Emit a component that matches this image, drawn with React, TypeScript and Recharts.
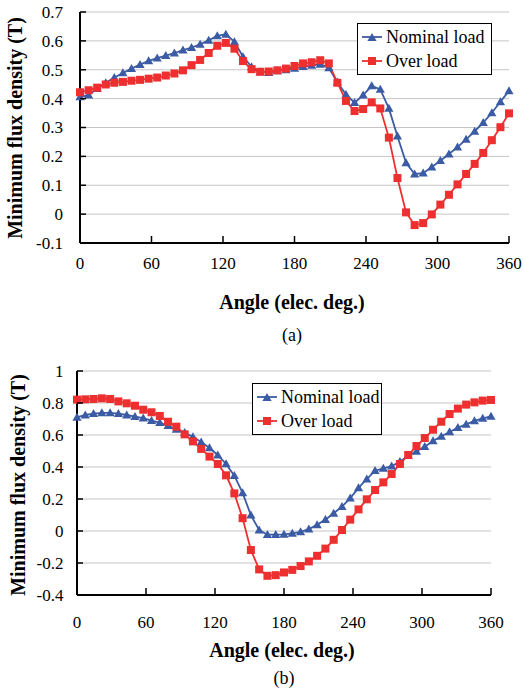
import React from 'react';
import { LineChart, Line, XAxis, YAxis, CartesianGrid } from 'recharts';

// electrical angle, one sample every 7.2 degrees
const angles = [
  0, 7.2, 14.4, 21.6, 28.8, 36, 43.2, 50.4, 57.6, 64.8, 72, 79.2, 86.4, 93.6, 100.8, 108, 115.2,
  122.4, 129.6, 136.8, 144, 151.2, 158.4, 165.6, 172.8, 180, 187.2, 194.4, 201.6, 208.8, 216,
  223.2, 230.4, 237.6, 244.8, 252, 259.2, 266.4, 273.6, 280.8, 288, 295.2, 302.4, 309.6, 316.8,
  324, 331.2, 338.4, 345.6, 352.8, 360,
];

// (a) minimum flux density, T
const nominalA = [
  0.406, 0.412, 0.435, 0.455, 0.473, 0.489, 0.504, 0.518, 0.531, 0.54, 0.549, 0.558, 0.568, 0.577,
  0.588, 0.602, 0.617, 0.623, 0.597, 0.545, 0.51, 0.493, 0.49, 0.496, 0.5, 0.505, 0.511, 0.515,
  0.519, 0.507, 0.457, 0.414, 0.386, 0.412, 0.444, 0.432, 0.366, 0.27, 0.178, 0.139, 0.142, 0.163,
  0.185, 0.208, 0.232, 0.259, 0.287, 0.317, 0.351, 0.389, 0.427,
];
const overA = [
  0.422, 0.429, 0.438, 0.449, 0.455, 0.458, 0.462, 0.465, 0.469, 0.473, 0.48, 0.487, 0.498, 0.516,
  0.534, 0.558, 0.583, 0.593, 0.573, 0.53, 0.502, 0.493, 0.494, 0.498, 0.504, 0.513, 0.522, 0.526,
  0.533, 0.522, 0.455, 0.392, 0.357, 0.364, 0.387, 0.366, 0.265, 0.125, 0.006, -0.038, -0.031,
  -0.001, 0.033, 0.067, 0.103, 0.139, 0.174, 0.212, 0.256, 0.301, 0.349,
];

// (b) minimum flux density, T
const nominalB = [
  0.71, 0.725, 0.733, 0.738, 0.738, 0.733, 0.725, 0.715, 0.706, 0.69, 0.677, 0.658, 0.635, 0.615,
  0.588, 0.556, 0.519, 0.475, 0.419, 0.346, 0.238, 0.099, 0.006, -0.023, -0.023, -0.021, -0.015,
  -0.006, 0.012, 0.039, 0.071, 0.111, 0.152, 0.206, 0.269, 0.325, 0.377, 0.392, 0.406, 0.433,
  0.471, 0.498, 0.527, 0.563, 0.592, 0.619, 0.646, 0.667, 0.688, 0.704, 0.717,
];
const overB = [
  0.821, 0.823, 0.825, 0.829, 0.825, 0.81, 0.798, 0.783, 0.758, 0.742, 0.719, 0.683, 0.652, 0.604,
  0.56, 0.513, 0.465, 0.419, 0.348, 0.235, 0.08, -0.119, -0.24, -0.28, -0.276, -0.259, -0.243,
  -0.219, -0.19, -0.155, -0.11, -0.055, 0.006, 0.071, 0.135, 0.198, 0.256, 0.304, 0.356, 0.419,
  0.475, 0.531, 0.581, 0.633, 0.683, 0.731, 0.765, 0.79, 0.804, 0.815, 0.819,
];

const angleTicks = [0, 60, 120, 180, 240, 300, 360];
const fluxTicksA = [-0.1, 0, 0.1, 0.2, 0.3, 0.4, 0.5, 0.6, 0.7];
const fluxTicksB = [-0.4, -0.2, 0, 0.2, 0.4, 0.6, 0.8, 1];
const seriesNames = ['Nominal load', 'Over load'];

const BLUE = '#3B5BA5';
const RED = '#ED2F2F';
const GRID = '#c4c4c4';
const SERIF = '"Liberation Serif", "Times New Roman", serif';

const toRows = (nominal: number[], over: number[]) =>
  angles.map((angle, i) => ({ angle, nominal: nominal[i], over: over[i] }));

const rowsA = toRows(nominalA, overA);
const rowsB = toRows(nominalB, overB);

const trianglePath = (cx: number, cy: number) =>
  `M${cx},${cy - 4.6}L${cx + 4.6},${cy + 3.4}L${cx - 4.6},${cy + 3.4}Z`;

const TriangleDot = (props: any) => {
  const { cx, cy, index } = props;
  if (cx == null || cy == null) return <g key={`tri-${index}`} />;
  return <path key={`tri-${index}`} d={trianglePath(cx, cy)} fill={BLUE} />;
};

const SquareDot = (props: any) => {
  const { cx, cy, index } = props;
  if (cx == null || cy == null) return <g key={`sq-${index}`} />;
  return <rect key={`sq-${index}`} x={cx - 4} y={cy - 4} width={8} height={8} fill={RED} />;
};

// inward tick mark on the left frame, label to the left of it
const YTick = (props: any) => {
  const x = Number(props.x);
  const y = Number(props.y);
  return (
    <g>
      <line x1={x} x2={x + 6} y1={y} y2={y} stroke="#000" strokeWidth={1.5} />
      <text x={x - props.gap} y={y} dy="0.35em" textAnchor="end" fontSize={17} fontFamily={SERIF} fill="#000">
        {String(props.payload.value)}
      </text>
    </g>
  );
};

// inward tick mark on the bottom frame, label below
const XTick = (props: any) => {
  const x = Number(props.x);
  const y = Number(props.y);
  return (
    <g>
      <line x1={x} x2={x} y1={y} y2={y - 7} stroke="#000" strokeWidth={1.5} />
      <text x={x} y={y + props.gap} dy="0.35em" textAnchor="middle" fontSize={17} fontFamily={SERIF} fill="#000">
        {String(props.payload.value)}
      </text>
    </g>
  );
};

const LegendBox = ({ left, top, width }: { left: number; top: number; width: number }) => (
  <div
    style={{
      position: 'absolute',
      left,
      top,
      border: '1.5px solid #000',
      background: '#fff',
      width,
      padding: '1px 0',
      fontFamily: SERIF,
      fontSize: 18,
      color: '#000',
    }}
  >
    {seriesNames.map((name, i) => {
      const color = i === 0 ? BLUE : RED;
      return (
        <div key={name} style={{ display: 'flex', alignItems: 'center', height: 24 }}>
          <svg width={28} height={12} style={{ display: 'block' }}>
            <line x1={4} x2={24} y1={6} y2={6} stroke={color} strokeWidth={1.8} />
            {i === 0 ? (
              <path d={trianglePath(14, 6.6)} fill={BLUE} />
            ) : (
              <rect x={10} y={2} width={8} height={8} fill={RED} />
            )}
          </svg>
          <span style={{ lineHeight: '24px', whiteSpace: 'nowrap' }}>{name}</span>
        </div>
      );
    })}
  </div>
);

const titleStyle: React.CSSProperties = {
  position: 'absolute',
  fontFamily: SERIF,
  fontWeight: 'bold',
  fontSize: 20,
  whiteSpace: 'nowrap',
  color: '#000',
  transform: 'translate(-50%, -50%)',
};

const captionStyle: React.CSSProperties = {
  ...titleStyle,
  fontWeight: 'normal',
  fontSize: 18,
};

interface FluxPanelProps {
  rows: { angle: number; nominal: number; over: number }[];
  fluxTicks: number[];
  width: number;
  height: number;
  margin: { top: number; right: number; bottom: number; left: number };
  yAxisWidth: number;
  xAxisHeight: number;
  yGap: number;
  xGap: number;
}

const frame = { stroke: '#000', strokeWidth: 2 };

const FluxPanel: React.FC<FluxPanelProps> = ({
  rows,
  fluxTicks,
  width,
  height,
  margin,
  yAxisWidth,
  xAxisHeight,
  yGap,
  xGap,
}) => {
  const yMin = fluxTicks[0];
  const yMax = fluxTicks[fluxTicks.length - 1];
  return (
    <LineChart width={width} height={height} data={rows} margin={margin}>
      <CartesianGrid vertical={false} stroke={GRID} strokeWidth={1} />
      <XAxis
        type="number"
        dataKey="angle"
        domain={[0, 360]}
        ticks={angleTicks}
        height={xAxisHeight}
        axisLine={frame}
        tickLine={false}
        tickSize={0}
        tickMargin={0}
        tick={(p: any) => <XTick {...p} gap={xGap} />}
      />
      <XAxis
        xAxisId="top"
        orientation="top"
        type="number"
        dataKey="angle"
        domain={[0, 360]}
        height={0}
        axisLine={frame}
        tick={false}
        tickLine={false}
      />
      <YAxis
        type="number"
        domain={[yMin, yMax]}
        ticks={fluxTicks}
        width={yAxisWidth}
        axisLine={frame}
        tickLine={false}
        tickSize={0}
        tickMargin={0}
        tick={(p: any) => <YTick {...p} gap={yGap} />}
      />
      <YAxis
        yAxisId="right"
        orientation="right"
        type="number"
        domain={[yMin, yMax]}
        width={0}
        axisLine={frame}
        tick={false}
        tickLine={false}
      />
      <Line
        type="linear"
        dataKey="nominal"
        name={seriesNames[0]}
        stroke={BLUE}
        strokeWidth={1.8}
        dot={TriangleDot}
        activeDot={false}
        isAnimationActive={false}
      />
      <Line
        type="linear"
        dataKey="over"
        name={seriesNames[1]}
        stroke={RED}
        strokeWidth={1.8}
        dot={SquareDot}
        activeDot={false}
        isAnimationActive={false}
      />
    </LineChart>
  );
};

export default function App() {
  return (
    <div
      style={{
        position: 'absolute',
        left: 0,
        top: 0,
        width: 524,
        height: 691,
        overflow: 'hidden',
        background: '#fff',
      }}
    >
      <div style={{ position: 'absolute', left: 0, top: 0 }}>
        <FluxPanel
          rows={rowsA}
          fluxTicks={fluxTicksA}
          width={524}
          height={280}
          margin={{ top: 12, right: 15, bottom: 7, left: 0 }}
          yAxisWidth={80}
          xAxisHeight={30}
          yGap={17}
          xGap={20}
        />
      </div>
      <LegendBox left={357} top={23} width={133} />
      <div style={{ ...titleStyle, left: 15, top: 128, transform: 'translate(-50%, -50%) rotate(-90deg)' }}>
        Minimum flux density (T)
      </div>
      <div style={{ ...titleStyle, left: 292, top: 302 }}>Angle (elec. deg.)</div>
      <div style={{ ...captionStyle, left: 292, top: 335 }}>(a)</div>

      <div style={{ position: 'absolute', left: 0, top: 350 }}>
        <FluxPanel
          rows={rowsB}
          fluxTicks={fluxTicksB}
          width={524}
          height={290}
          margin={{ top: 21, right: 33, bottom: 7, left: 0 }}
          yAxisWidth={77}
          xAxisHeight={38}
          yGap={13.5}
          xGap={27}
        />
      </div>
      <LegendBox left={252} top={383} width={128} />
      <div style={{ ...titleStyle, left: 18, top: 485, transform: 'translate(-50%, -50%) rotate(-90deg)' }}>
        Minimum flux density (T)
      </div>
      <div style={{ ...titleStyle, left: 282, top: 650 }}>Angle (elec. deg.)</div>
      <div style={{ ...captionStyle, left: 284, top: 678 }}>(b)</div>
    </div>
  );
}
